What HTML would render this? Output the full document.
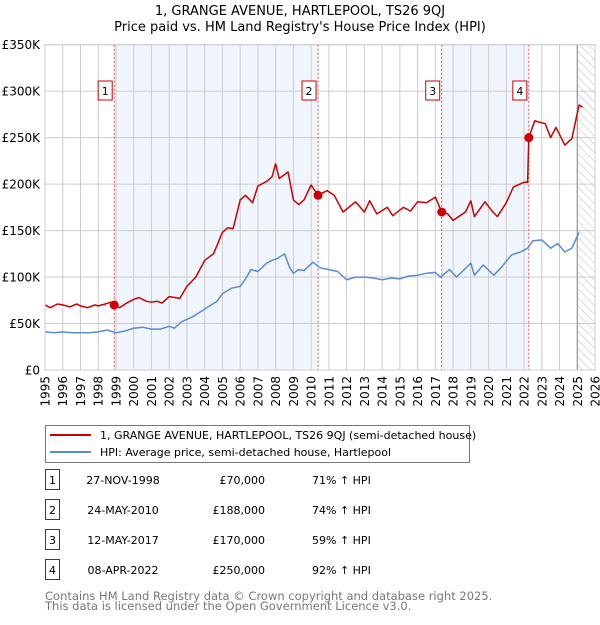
<!DOCTYPE html>
<html><head><meta charset="utf-8">
<style>
body{margin:0;background:#fff;font-family:"Liberation Sans","DejaVu Sans",sans-serif;}
svg text{font-family:"DejaVu Sans","Liberation Sans",sans-serif;}
</style></head>
<body>
<svg id="c" width="600" height="620" xmlns="http://www.w3.org/2000/svg">
<defs><pattern id="hatch" width="6" height="6" patternUnits="userSpaceOnUse" patternTransform="rotate(-45)"><line x1="0" y1="0" x2="0" y2="6" stroke="#bbb" stroke-width="1"/></pattern></defs>
<text x="300" y="15" text-anchor="middle" font-size="13">1, GRANGE AVENUE, HARTLEPOOL, TS26 9QJ</text>
<text x="300" y="31" text-anchor="middle" font-size="13">Price paid vs. HM Land Registry's House Price Index (HPI)</text>
<g id="plot"></g>
<g>
<rect x="45.5" y="425.5" width="424" height="37" fill="#fff" stroke="#777"/>
<line x1="50" y1="435" x2="91" y2="435" stroke="#cc0000" stroke-width="2"/>
<text x="100" y="439" font-size="11">1, GRANGE AVENUE, HARTLEPOOL, TS26 9QJ (semi-detached house)</text>
<line x1="50" y1="452" x2="91" y2="452" stroke="#5b8bd0" stroke-width="2"/>
<text x="100" y="456" font-size="11">HPI: Average price, semi-detached house, Hartlepool</text>
</g>
<g id="table" font-size="11"></g>
<text x="45" y="600" font-size="11.5" fill="#777">Contains HM Land Registry data © Crown copyright and database right 2025.</text>
<text x="45" y="610" font-size="11.5" fill="#777">This data is licensed under the Open Government Licence v3.0.</text>
</svg>
<script>
const yTicks=[0,50,100,150,200,250,300,350];
const yTickLabels=["£0","£50K","£100K","£150K","£200K","£250K","£300K","£350K"];
const years=[1995,1996,1997,1998,1999,2000,2001,2002,2003,2004,2005,2006,2007,2008,2009,2010,2011,2012,2013,2014,2015,2016,2017,2018,2019,2020,2021,2022,2023,2024,2025,2026];
const saleTimes=[1998.9,2010.39,2017.36,2022.27];
const saleValues=[70,188,170,250];
const saleDates=["27-NOV-1998","24-MAY-2010","12-MAY-2017","08-APR-2022"];
const salePrices=["£70,000","£188,000","£170,000","£250,000"];
const saleHpi=["71% ↑ HPI","74% ↑ HPI","59% ↑ HPI","92% ↑ HPI"];
const redT=[1995,1995.3,1995.7,1996,1996.4,1996.8,1997,1997.4,1997.8,1998,1998.4,1998.7,1998.9,1999.2,1999.6,2000,2000.3,2000.7,2001,2001.3,2001.6,2002,2002.3,2002.6,2003,2003.5,2004,2004.5,2005,2005.3,2005.6,2006,2006.3,2006.7,2007,2007.5,2007.8,2008,2008.2,2008.7,2009,2009.3,2009.6,2010,2010.39,2010.9,2011.3,2011.8,2012.5,2013,2013.3,2013.7,2014.3,2014.6,2015.2,2015.6,2016,2016.5,2017,2017.36,2017.7,2018,2018.7,2019,2019.2,2019.8,2020.2,2020.5,2021,2021.4,2022,2022.2,2022.27,2022.6,2023.2,2023.5,2023.8,2024.3,2024.7,2025.1,2025.3];
const redV=[70,67,71,70,68,71,69,67,70,69,71,73,70,67,72,76,78,74,73,74,72,79,78,77,90,100,118,125,148,153,152,183,188,180,198,203,208,222,206,213,183,178,183,199,188,193,188,170,181,170,182,168,175,166,175,171,181,180,186,170,168,161,170,182,165,181,171,165,180,197,202,202,250,268,265,250,261,242,249,285,283];
const blueT=[1995,1995.5,1996,1996.5,1997,1997.5,1998,1998.5,1999,1999.5,2000,2000.5,2001,2001.5,2002,2002.3,2002.7,2003.3,2003.8,2004.2,2004.7,2005,2005.5,2006,2006.3,2006.6,2007,2007.5,2007.8,2008.1,2008.5,2008.8,2009,2009.3,2009.6,2010.1,2010.5,2011,2011.5,2012,2012.5,2013,2013.5,2014,2014.5,2015,2015.5,2016,2016.5,2017,2017.3,2017.8,2018.2,2019,2019.2,2019.7,2020.3,2020.7,2021.3,2021.8,2022.2,2022.5,2023,2023.5,2023.9,2024.3,2024.7,2025.1];
const blueV=[41,40,41,40,40,40,41,43,40,42,45,46,44,44,47,45,52,57,63,68,74,82,88,90,98,108,106,115,118,120,125,110,104,108,107,116,110,108,106,97,100,100,99,97,99,98,101,102,104,105,100,108,100,115,102,113,102,110,124,127,131,139,140,131,136,127,131,148];

const X0=45,X1=595,Y0=370,Y1=44.7;
const xs=t=>X0+(t-1995)/(2026-1995)*(X1-X0);
const ys=v=>Y0-v/350*(Y0-Y1);
const NS="http://www.w3.org/2000/svg";
const plot=document.getElementById('plot');
function mk(tag,attrs,parent){const e=document.createElementNS(NS,tag);for(const k in attrs)e.setAttribute(k,attrs[k]);(parent||plot).appendChild(e);return e;}

[[0,1],[2,3]].forEach(p=>{
 const r=mk('rect',{x:xs(saleTimes[p[0]]),y:Y1,width:xs(saleTimes[p[1]])-xs(saleTimes[p[0]]),height:Y0-Y1,fill:'#eef3fc',opacity:0.8});
 
 
});
const h=mk('rect',{x:xs(2025),y:Y1,width:X1-xs(2025),height:Y0-Y1,fill:'url(#hatch)'});


years.forEach((yr,i)=>{
 const x=xs(yr);
 const g=mk('line',{x1:x,x2:x,y1:Y1,y2:Y0,stroke:'#ccc','stroke-width':1});
 
 
 const t=mk('text',{x:0,y:0,'font-size':12,'text-anchor':'end',transform:`translate(${x+4.5},${Y0+6}) rotate(-90)`});
 t.textContent=yr;
 
 
});
yTicks.forEach((v,i)=>{
 const y=ys(v);
 const g=mk('line',{x1:X0,x2:X1,y1:y,y2:y,stroke:'#ccc','stroke-width':1});
 
 
 const t=mk('text',{x:40,y:y+4.5,'font-size':12,'text-anchor':'end'});
 t.textContent=yTickLabels[i];
 
 
});
const nl=mk('line',{x1:xs(2025),x2:xs(2025),y1:Y1,y2:Y0,stroke:'#888','stroke-width':1});


saleTimes.forEach((t,i)=>{
 const x=xs(t);
 const l=mk('line',{x1:x,x2:x,y1:Y1,y2:Y0,stroke:'#e05050','stroke-width':1,'stroke-dasharray':'2,2'});
 
 
 const b=mk('rect',{x:x-16,y:81,width:14,height:19,fill:'#fff',stroke:'#cc0000'});
 
 
 const tx=mk('text',{x:x-9,y:95,'font-size':11,'text-anchor':'middle'});
 tx.textContent=String(i+1);
 
 
});
function line(T,V,color,name){
 const d=T.map((t,i)=>(i?'L':'M')+xs(t).toFixed(1)+','+ys(V[i]).toFixed(1)).join('');
 const p=mk('path',{d:d,fill:'none',stroke:color,'stroke-width':1.5,'stroke-linejoin':'round'});
 
 
}
line(blueT,blueV,'#5b8bd0','hpi-line');
line(redT,redV,'#cc0000','price-paid-line');
saleTimes.forEach((t,i)=>{
 const c=mk('circle',{cx:xs(t),cy:ys(saleValues[i]),r:4.5,fill:'#cc0000'});
 
 
});
const bd=mk('rect',{x:X0,y:Y1,width:X1-X0,height:Y0-Y1,fill:'none',stroke:'#ccc'});


const tb=document.getElementById('table');
saleDates.forEach((d,i)=>{
 const y=483+i*30;
 const b=mk('rect',{x:45.5,y:y-13.5,width:14,height:20,fill:'#fff',stroke:'#cc0000'},tb);
 
 
 const n=mk('text',{x:52.5,y:y+1,'text-anchor':'middle'},tb);n.textContent=String(i+1);
 
 
 const a=mk('text',{x:123,y:y+1,'text-anchor':'middle'},tb);a.textContent=d;
 
 
 const p=mk('text',{x:265,y:y+1,'text-anchor':'end'},tb);p.textContent=salePrices[i];
 
 
 const q=mk('text',{x:312,y:y+1},tb);q.textContent=saleHpi[i];
 
 
});
</script>
</body></html>
